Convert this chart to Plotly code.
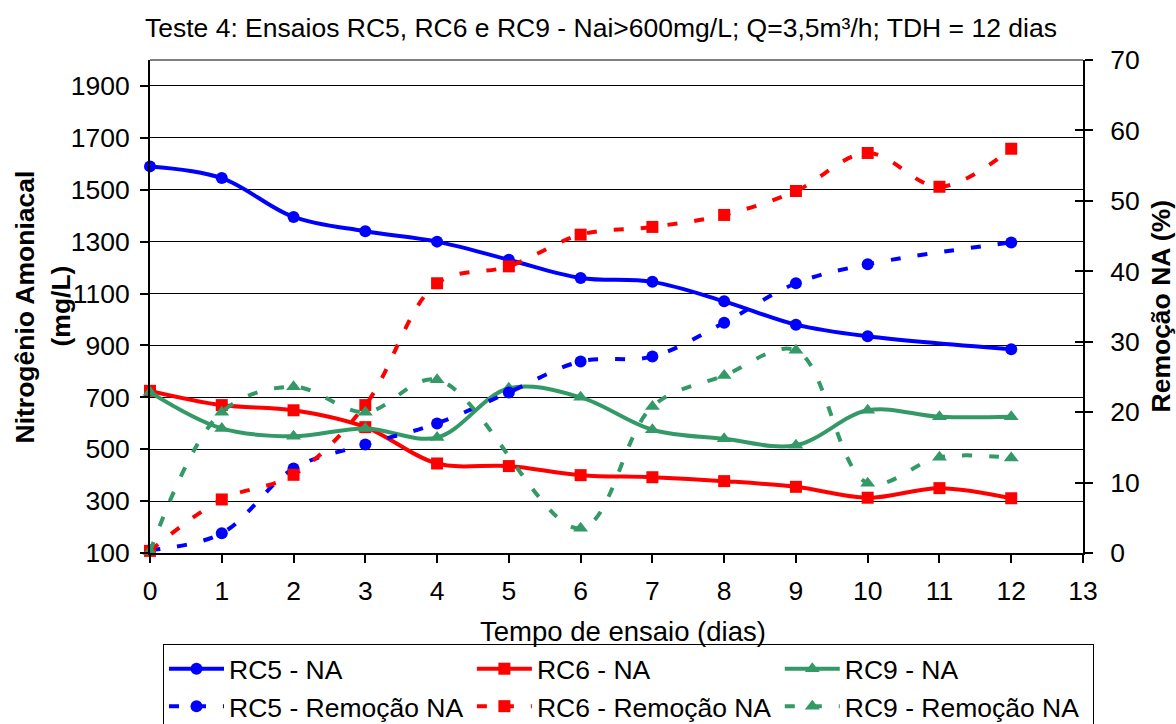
import plotly.graph_objects as go

# Tempo de ensaio (dias)
days = [0, 1, 2, 3, 4, 5, 6, 7, 8, 9, 10, 11, 12]

# Nitrogênio amoniacal (mg/L) - eixo principal
rc5_na = [1590, 1545, 1395, 1340, 1300, 1230, 1160, 1145, 1070, 980, 935, None, 885]
rc6_na = [725, 670, 650, 585, 445, 435, 400, 392, 377, 355, 313, 350, 311]
rc9_na = [720, 580, 550, 580, 545, 735, 700, 575, 540, 515, 650, 625, 625]

# Remoção de NA (%) - eixo secundário
rc5_rem = [0.4, 2.8, 12.0, 15.4, 18.4, 22.8, 27.2, 27.9, 32.7, 38.3, 41.0, None, 44.1]
rc6_rem = [0.3, 7.6, 11.1, 21.0, 38.3, 40.7, 45.2, 46.3, 48.0, 51.4, 56.8, 52.0, 57.4]
rc9_rem = [0.2, 20.0, 23.6, 20.0, 24.6, None, 3.5, 20.8, 25.2, 28.8, 9.9, 13.6, 13.5]

left_ticks = [100, 300, 500, 700, 900, 1100, 1300, 1500, 1700, 1900]
right_ticks = [0, 10, 20, 30, 40, 50, 60, 70]
x_ticks = list(range(0, 14))

BLUE = "#0000FF"
RED = "#FF0000"
GREEN = "#339966"
FONT = "Arial, Liberation Sans, sans-serif"
FS = 26.5
DASH = "10px,17px"

series = [
    ("RC5 - NA", rc5_na, BLUE, "circle", "solid", "y"),
    ("RC6 - NA", rc6_na, RED, "square", "solid", "y"),
    ("RC9 - NA", rc9_na, GREEN, "triangle-up", "solid", "y"),
    ("RC5 - Remoção NA", rc5_rem, BLUE, "circle", DASH, "y2"),
    ("RC6 - Remoção NA", rc6_rem, RED, "square", DASH, "y2"),
    ("RC9 - Remoção NA", rc9_rem, GREEN, "triangle-up", DASH, "y2"),
]

fig = go.Figure()
for name, vals, color, symbol, dash, yax in series:
    fig.add_trace(go.Scatter(
        x=days, y=vals, name=name, yaxis=yax,
        mode="lines+markers",
        line=dict(color=color, width=4, dash=dash, shape="spline", smoothing=1.0),
        marker=dict(color=color, symbol=symbol, size=13 if symbol == "triangle-up" else 12),
        connectgaps=True, cliponaxis=False,
    ))

# companion axis that only carries the inner half of the right-hand tick marks
fig.add_trace(go.Scatter(x=[None], y=[None], yaxis="y3", showlegend=False, hoverinfo="skip"))

fig.update_layout(
    width=1176, height=724,
    margin=dict(l=150, r=93, t=60, b=171, autoexpand=False),
    paper_bgcolor="white", plot_bgcolor="white",
    font=dict(family=FONT, size=FS, color="black"),
    showlegend=True,
    title=dict(
        text="Teste 4: Ensaios RC5, RC6 e RC9 - Nai>600mg/L; Q=3,5m³/h; TDH = 12 dias",
        x=0.511, xanchor="center", y=1 - 28 / 724, yanchor="middle",
        font=dict(family=FONT, size=FS, color="black"),
    ),
    xaxis=dict(
        range=[0, 13], tickvals=x_ticks, ticks="outside", ticklen=8, tickwidth=2,
        tickcolor="black", showline=True, linecolor="black", linewidth=2,
        showgrid=False, zeroline=False, ticklabelstandoff=5,
        tickfont=dict(size=FS),
    ),
    yaxis=dict(
        range=[100, 2000], tickvals=left_ticks, ticks="outside", ticklen=8, tickwidth=2,
        tickcolor="black", showline=True, linecolor="black", linewidth=2,
        showgrid=True, gridcolor="black", gridwidth=1.4, zeroline=False,
        ticklabelstandoff=5, tickfont=dict(size=FS),
    ),
    yaxis2=dict(
        range=[0, 70], tickvals=right_ticks, overlaying="y", side="right", anchor="x",
        ticks="outside", ticklen=8, tickwidth=2, tickcolor="black",
        showline=True, linecolor="black", linewidth=2, showgrid=False, zeroline=False,
        ticklabelstandoff=12, tickfont=dict(size=FS),
    ),
    yaxis3=dict(
        range=[0, 70], tickvals=right_ticks, overlaying="y", side="right", anchor="x",
        ticks="inside", ticklen=8, tickwidth=2, tickcolor="black",
        showline=False, showgrid=False, zeroline=False, showticklabels=False,
    ),
    legend=dict(
        orientation="h", xref="container", yref="container",
        x=163 / 1176, xanchor="left", y=1 - 644 / 724, yanchor="top",
        bordercolor="black", borderwidth=1, bgcolor="white",
        font=dict(family=FONT, size=FS, color="black"),
        itemwidth=55, entrywidth=0.33, entrywidthmode="fraction", traceorder="normal",
    ),
    shapes=[dict(type="line", xref="x domain", yref="y domain", x0=0, x1=1, y0=1, y1=1,
                 line=dict(color="#808080", width=2), layer="below")],
    annotations=[
        dict(text="Tempo de ensaio (dias)", xref="paper", yref="paper",
             x=(623 - 150) / 933, y=(553 - 631) / 493,
             xanchor="center", yanchor="middle", showarrow=False, font=dict(size=27.5)),
        dict(text="<b>Nitrogênio Amoniacal</b>", xref="paper", yref="paper",
             x=(24 - 150) / 933, y=0.5,
             textangle=-90, xanchor="center", yanchor="middle", showarrow=False, font=dict(size=FS)),
        dict(text="<b>(mg/L)</b>", xref="paper", yref="paper",
             x=(60 - 150) / 933, y=0.5,
             textangle=-90, xanchor="center", yanchor="middle", showarrow=False, font=dict(size=FS)),
        dict(text="<b>Remoção NA (%)</b>", xref="paper", yref="paper",
             x=(1160 - 150) / 933, y=0.5,
             textangle=-90, xanchor="center", yanchor="middle", showarrow=False, font=dict(size=FS)),
    ],
)

fig.write_html("out.html")
